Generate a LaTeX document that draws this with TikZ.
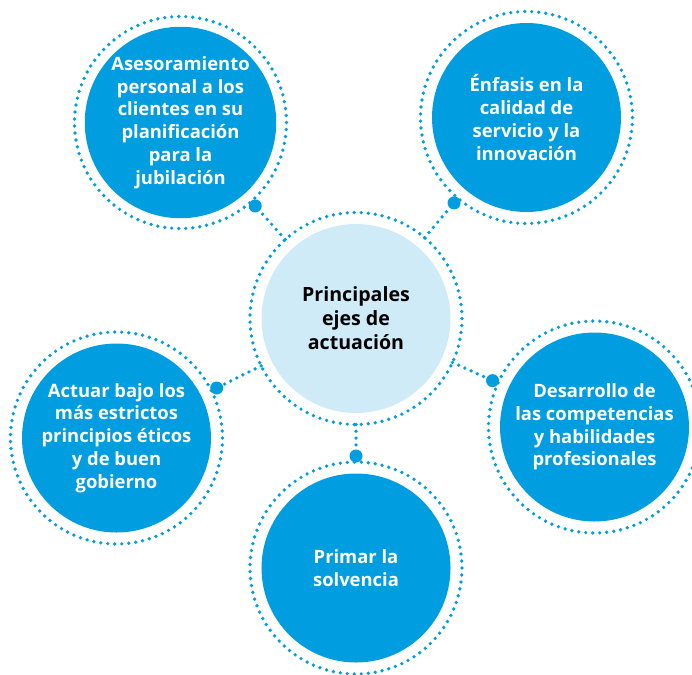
\documentclass[tikz,border=0pt]{standalone}
\usepackage{fontspec}
\setmainfont{Open Sans}
\usetikzlibrary{calc}
\definecolor{brandblue}{RGB}{0,158,224}
\definecolor{paleblue}{RGB}{208,235,248}
\newcommand\pillarfont{\fontsize{18.4}{22.8}\selectfont\bfseries}
\newcommand\hubfont{\fontsize{19.6}{24}\selectfont\bfseries}
\begin{document}
\begin{tikzpicture}[x=1pt,y=-1pt,
  pillar/.style={circle,fill=brandblue,minimum size=189pt,inner sep=0pt,
    text=white,align=center,font=\pillarfont},
  hub/.style={circle,fill=paleblue,minimum size=189pt,inner sep=0pt,
    text=black,align=center,font=\hubfont},
  ring/.style={brandblue,line width=3.7pt,line cap=round,dash pattern=on 0pt off 7.011pt},
  link/.style={brandblue,line width=3.7pt,line cap=round,dash pattern=on 0pt off 6.8pt},
  knob/.style={circle,fill=brandblue,minimum size=13pt,inner sep=0pt}]
\useasboundingbox (0,0) rectangle (692,674);

% central hub and the five pillars around it
\node[hub] (hub) at (356,318.5) {Principales\\ejes de\\actuación};
\node[pillar] (advice) at (180.5,122.5)
  {Asesoramiento\\personal a los\\clientes en su\\planificación\\para la\\jubilación};
\node[pillar] (quality) at (526.5,117.5)
  {Énfasis en la\\calidad de\\servicio y la\\innovación};
\node[pillar] (talent) at (594.5,427)
  {Desarrollo de\\las competencias\\y habilidades\\profesionales};
\node[pillar] (ethics) at (116.5,438)
  {Actuar bajo los\\más estrictos\\principios éticos\\y de buen\\gobierno};
\node[pillar] (solvency) at (356,568) {Primar la\\solvencia};

% dotted halo around every circle
\foreach \n in {hub,advice,quality,talent,ethics,solvency}
  \draw[ring] (\n.center) circle (106pt);

% dotted spokes ending in a round knob on each pillar's halo
\foreach \n in {advice,quality,talent,ethics,solvency} {
  \draw[link] ($(hub.center)!106pt!(\n.center)$) -- ($(\n.center)!112pt!(hub.center)$);
  \node[knob] (knob-\n) at ($(\n.center)!112pt!(hub.center)$) {};
}
\end{tikzpicture}
\end{document}
